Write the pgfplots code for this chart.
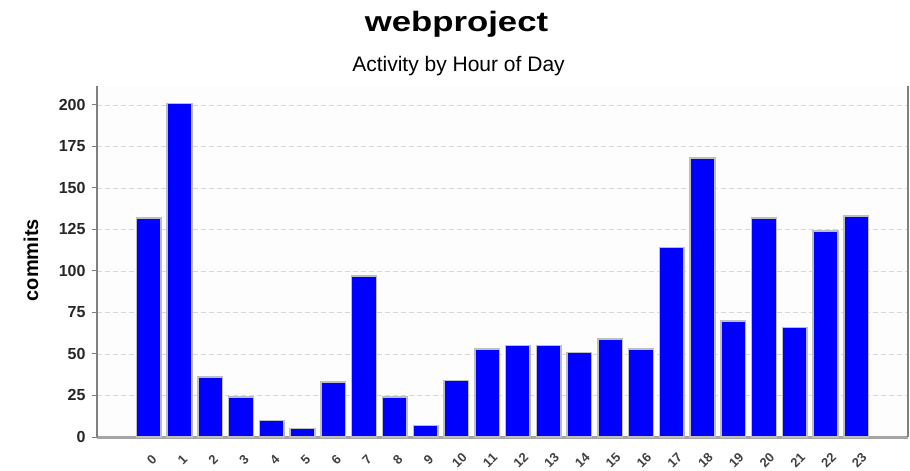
\documentclass[border=0pt]{standalone}
\usepackage{fontspec}
\setmainfont{Liberation Sans}
\usepackage{graphicx}
\usepackage{pgfplots}
\pgfplotsset{compat=1.18}
\definecolor{barblue}{RGB}{0,0,255}
\definecolor{baredge}{RGB}{190,190,190}
\definecolor{axgray}{RGB}{128,128,128}
\definecolor{botgray}{RGB}{165,165,165}
\definecolor{gridgray}{RGB}{215,215,215}
\definecolor{bggray}{RGB}{253,253,253}
\begin{document}
\begin{tikzpicture}[x=1pt,y=1pt]
\begin{axis}[
  at={(0,0)}, anchor=south west,
  scale only axis, width=811pt, height=351pt,
  xmin=-1.68, xmax=24.68, ymin=0, ymax=211.4,
  axis x line*=bottom, axis y line*=box,
  ybar, bar width=0.8,
  ytick={0,25,...,200},
  xtick={0,...,23},
  /pgf/number format/assume math mode=true,
  ymajorgrids,
  grid style={gridgray, dash pattern=on 5pt off 3pt, line width=0.8pt},
  tick align=outside, ytick pos=left, major tick length=5pt,
  y tick style={axgray, line width=1pt},
  x tick style={draw=none},
  x axis line style={botgray, line width=3pt, -},
  y axis line style={axgray, line width=2pt, -},
  axis background/.style={fill=bggray},
  yticklabel style={font=\fontsize{16}{16}\selectfont\bfseries, text=black!85, xshift=-3pt},
  xticklabel style={font=\fontsize{13}{13}\selectfont\bfseries, text=black!75, anchor=center, xshift=3pt, yshift=-18pt, rotate=45, inner sep=1pt},
  ylabel={commits},
  ylabel style={font=\fontsize{20}{20}\selectfont\bfseries, at={(axis description cs:-0.0727,0.504)}, anchor=base},
]
\addplot[fill=barblue, draw=baredge, line width=1.5pt] coordinates {
(0,132) (1,201) (2,36) (3,24) (4,10) (5,5) (6,33) (7,97) (8,24) (9,7)
(10,34) (11,53) (12,55) (13,55) (14,51) (15,59) (16,53) (17,114) (18,168) (19,70)
(20,132) (21,66) (22,124) (23,133)
};
\end{axis}
\node[anchor=base, inner sep=0pt] at (359.5,405) {\scalebox{1.24}[1]{\fontsize{28}{28}\selectfont\bfseries webproject}};
\node[anchor=base, inner sep=0pt] at (361.5,365) {\fontsize{21}{21}\selectfont Activity by Hour of Day};
\path[use as bounding box] (-97,-34) rectangle (813,437);
\end{tikzpicture}
\end{document}
